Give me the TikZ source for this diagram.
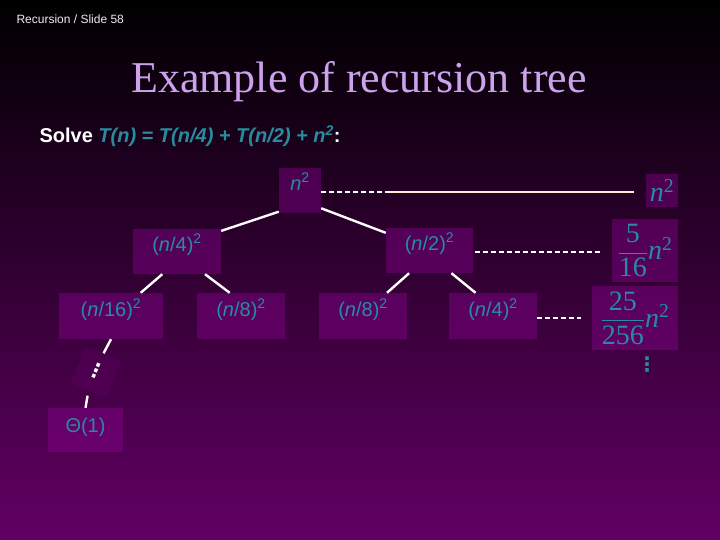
\documentclass[tikz,border=0pt]{standalone}
\usepackage{amsmath}
\usepackage{fontspec}
\setmainfont{Liberation Serif}
\setsansfont{Liberation Sans}
\newfontfamily\dotsfont{DejaVu Sans}
\usepackage{tikz}
\usetikzlibrary{positioning,calc}

\definecolor{bgmid}{RGB}{78,0,80}
\definecolor{bgbot}{RGB}{98,0,100}
\definecolor{boxfill}{RGB}{140,0,148}
\definecolor{tealtxt}{RGB}{40,140,160}
\definecolor{titlelav}{RGB}{204,162,236}
\definecolor{sumline}{RGB}{255,236,208}
\newcommand{\nit}{\textit{n}}

\begin{document}
\begin{tikzpicture}[
  x=1pt, y=-1pt,
  box/.style={fill=boxfill, fill opacity=0.42, text opacity=1, inner sep=0pt,
    text=tealtxt, font=\fontsize{20}{24}\selectfont\sffamily,
    text height=15pt, text depth=15pt},
  sumbox/.style={fill=boxfill, fill opacity=0.42, text opacity=1, inner sep=0pt,
    text=tealtxt, font=\fontsize{28}{32}\selectfont\rmfamily},
  edge/.style={white, line width=2.4pt},
  guide/.style={white, line width=1.1pt, dash pattern=on 5pt off 3pt},
]
  % slide background
  \useasboundingbox (0,0) rectangle (720,540);
  \shade[top color=black, middle color=bgmid, bottom color=bgbot]
    (0,0) rectangle (720,540);

  % header and title
  \node[anchor=base west, text=black!8!titlelav!20!white,
        font=\fontsize{12}{14}\selectfont\sffamily] (slide) at (13,24)
       {Recursion / Slide 58};
  \node[anchor=base, text=titlelav, font=\fontsize{44}{50}\selectfont\rmfamily]
       (title) at (359,93) {Example of recursion tree};
  \node[anchor=base west, font=\fontsize{20}{24}\selectfont\sffamily\bfseries]
       (solve) at (36,143)
       {\textcolor{white}{Solve} \textcolor{tealtxt}{\itshape T(n) = T(n/4) +
        T(n/2) + n\textsuperscript{2}}\textcolor{white}{:}};

  % the tree
  \node[box, minimum width=42, minimum height=45] (root) at (300,190.5)
       {\nit\textsuperscript{2}};
  \node[box, minimum width=88, minimum height=45] (n4) at (177,251.5)
       {(\nit/4)\textsuperscript{2}};
  \node[box, minimum width=87, minimum height=45] (n2) at (429.5,250.5)
       {(\nit/2)\textsuperscript{2}};
  \node[box, minimum width=104, minimum height=46] (n16) at (111,316)
       {(\nit/16)\textsuperscript{2}};
  \node[box, minimum width=88, minimum height=46] (n8a) at (241,316)
       {(\nit/8)\textsuperscript{2}};
  \node[box, minimum width=88, minimum height=46] (n8b) at (363,316)
       {(\nit/8)\textsuperscript{2}};
  \node[box, minimum width=88, minimum height=46] (n4b) at (493,316)
       {(\nit/4)\textsuperscript{2}};
  \node[box, fill opacity=0.14, text=white, minimum width=38, minimum height=40,
        rotate=-22, font=\fontsize{20}{22}\selectfont\dotsfont\bfseries,
        text height=14pt, text depth=2pt] (dots) at (96,372) {⋮};
  \node[box, minimum width=75, minimum height=44, text depth=11pt]
       (leaf) at (85.5,430) {Θ(1)};

  \draw[edge] (root.225) -- (n4.25);
  \draw[edge] (root.-40) -- (n2.158);
  \draw[edge] (n4.237) -- (n16.38);
  \draw[edge] (n4.-39) -- (n8a.116);
  \draw[edge] (n2.228) -- (n8b.44);
  \draw[edge] (n2.-46) -- (n4b.127);
  \draw[edge] (n16.south) -- (dots.north);
  \draw[edge, shorten <=5pt] (dots.south) -- (leaf.north);

  % level sums
  \node[sumbox, minimum width=32, minimum height=33] (sum0) at (662,190.5)
       {$\textit{n}^{\text{2}}$};
  \node[sumbox, minimum width=66, minimum height=63] (sum1) at (645,250.5)
       {$\dfrac{\text{5}}{\text{16}}\textit{n}^{\text{2}}$};
  \node[sumbox, minimum width=86, minimum height=64] (sum2) at (635,318)
       {$\dfrac{\text{25}}{\text{256}}\textit{n}^{\text{2}}$};
  \node[text=tealtxt, font=\fontsize{20}{22}\selectfont\dotsfont\bfseries]
       (sumdots) at (647,365) {⋮};

  \coordinate (gap0) at (390,192);
  \coordinate (end0) at (634,192);
  \coordinate (end1) at (600,252);
  \coordinate (end2) at (581,318);
  \draw[guide] (gap0 -| root.east) -- (gap0);
  \draw[sumline, line width=1.4pt] (gap0) -- (end0);
  \draw[guide, shorten <=2pt] (end1 -| n2.east) -- (end1);
  \draw[guide] (end2 -| n4b.east) -- (end2);
\end{tikzpicture}
\end{document}
